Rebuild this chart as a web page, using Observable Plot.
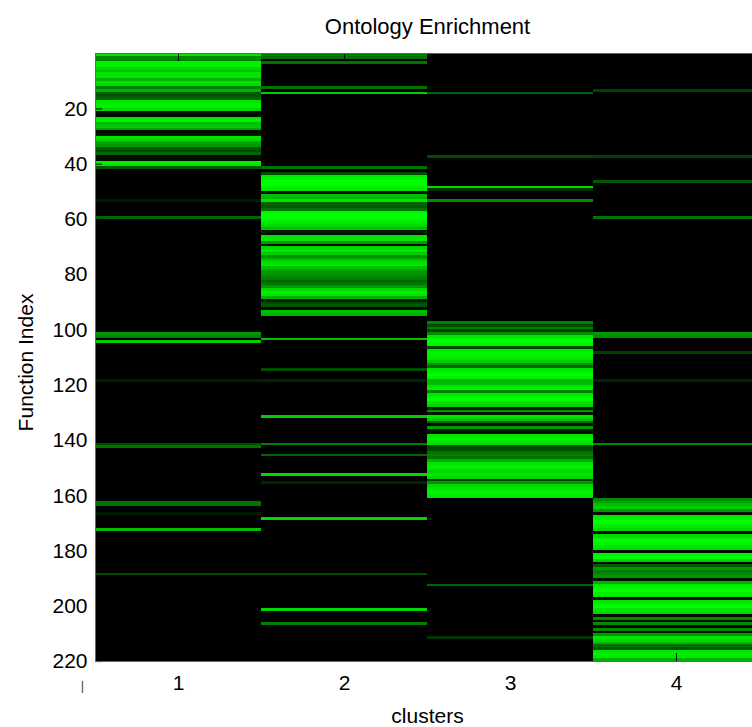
<!DOCTYPE html>
<html>
<head>
<meta charset="utf-8">
<script src="https://cdn.jsdelivr.net/npm/d3@7"></script>
<script src="https://cdn.jsdelivr.net/npm/@observablehq/plot@0.6"></script>
<style>
  html, body { margin: 0; padding: 0; background: #fff; overflow: hidden; width: 752px; height: 727px; }
  #chart { width: 752px; height: 727px; overflow: hidden; }
  #chart svg { max-width: none !important; width: 760px !important; height: 727px !important; }
</style>
</head>
<body>
<div id="chart"></div>
<script>
const title = "Ontology Enrichment";
const xLabel = "clusters";
const yLabel = "Function Index";
const clusters = [1, 2, 3, 4];
const xTicks = [1, 2, 3, 4];
const yTicks = [20, 40, 60, 80, 100, 120, 140, 160, 180, 200, 220];
const nFunctions = 220;

// enrichment intensity (0 = none, 1 = max) per function index, one array per cluster
const cluster1 = [
  0.9,0.55,0.5,0.95,0.95,0.85,0.75,0.9,0.9,0.7,
  0.9,0.85,0.5,0.7,0.35,0.35,0.4,0.9,0.95,0.95,
  0.85,0.05,0.05,0.9,0.95,0.75,0.8,0.65,0.05,0.1,
  0.9,0.85,0.65,0.6,0.35,0.3,0.4,0.05,0.05,0.95,
  0.9,0.35,0,0,0,0,0,0,0,0,
  0,0,0,0.1,0,0,0,0,0,0.4,
  0,0,0,0,0,0,0,0,0,0,
  0,0,0,0,0,0,0,0,0,0,
  0,0,0,0,0,0,0,0,0,0,
  0,0,0,0,0,0,0,0,0,0,
  0,0.6,0.5,0,0.8,0,0,0,0,0,
  0,0,0,0,0,0,0,0,0.12,0,
  0,0,0,0,0,0,0,0,0,0,
  0,0,0,0,0,0,0,0,0,0,
  0,0.3,0.45,0,0,0,0,0,0,0,
  0,0,0,0,0,0,0,0,0,0,
  0,0,0.45,0.45,0,0,0.1,0,0,0,
  0,0,0.75,0,0,0,0,0,0,0,
  0,0,0,0,0,0,0,0,0.3,0,
  0,0,0,0,0,0,0,0,0,0,
  0,0,0,0,0,0,0,0,0,0,
  0,0,0,0,0,0,0,0,0,0
];
const cluster2 = [
  0.5,0.45,0,0.45,0,0,0,0,0,0,
  0,0,0.45,0,0.8,0,0,0,0,0,
  0,0,0,0,0,0,0,0,0,0,
  0,0,0,0,0,0,0,0,0,0,
  0,0.45,0,0.3,0.9,0.95,1,1,0.95,0.9,
  0.05,0.75,0.7,0.9,0.4,0.35,0.45,0.95,1,1,
  0.95,0.9,0.85,0.75,0.1,0.05,0.9,0.9,0.6,0.05,
  0.85,0.9,0.8,0.55,0.7,0.85,0.9,0.75,0.65,0.6,
  0.55,0.5,0.4,0.45,0.6,0.85,0.95,0.9,0.7,0.1,
  0.3,0.35,0.05,0.75,0.7,0,0,0,0,0,
  0,0,0,0.75,0,0,0,0,0,0,
  0,0,0,0,0.3,0,0,0,0.15,0,
  0,0,0,0,0,0,0,0,0,0,
  0,0.8,0,0,0,0,0,0,0,0,
  0,0.5,0,0,0,0.4,0,0,0,0,
  0,0,0.85,0,0,0.15,0,0,0,0,
  0,0,0,0,0,0,0,0,0.85,0,
  0,0,0,0,0,0,0,0,0,0,
  0,0,0,0,0,0,0,0,0.3,0,
  0,0,0,0,0,0,0,0,0,0,
  0,0.85,0,0,0,0,0.5,0,0,0,
  0,0,0,0,0,0,0,0,0,0
];
const cluster3 = [
  0,0,0,0,0,0,0,0,0,0,
  0,0,0,0,0.4,0,0,0,0,0,
  0,0,0,0,0,0,0,0,0,0,
  0,0,0,0,0,0,0,0.3,0,0,
  0,0,0,0,0,0,0,0,0.85,0.2,
  0,0,0,0.55,0,0,0,0,0,0,
  0,0,0,0,0,0,0,0,0,0,
  0,0,0,0,0,0,0,0,0,0,
  0,0,0,0,0,0,0,0,0,0,
  0,0,0,0,0,0,0,0.5,0.3,0.5,
  0.25,0.55,0.9,0.95,1,0.95,0.3,0.9,0.95,0.95,
  0.9,0.8,0.6,0.4,0.9,0.95,1,0.95,0.7,0.75,
  0.9,0.95,0.5,0.9,0.95,1,0.9,0.85,0.1,0.6,
  0.1,0.9,0.8,0.4,0.05,0.6,0.1,0.05,0.9,0.95,
  0.9,0.85,0.3,0.3,0.45,0.5,0.45,0.7,0.9,0.95,
  0.9,0.85,0.9,0.85,0.2,0.6,0.85,0.9,0.95,0.95,
  0.9,0,0,0,0,0,0,0,0,0,
  0,0,0,0,0,0,0,0,0,0,
  0,0,0,0,0,0,0,0,0,0,
  0,0,0.4,0,0,0,0,0,0,0,
  0,0,0,0,0,0,0,0,0,0,
  0,0.2,0,0,0,0,0,0,0,0
];
const cluster4 = [
  0,0,0,0,0,0,0,0,0,0,
  0,0,0,0.25,0,0,0,0,0,0,
  0,0,0,0,0,0,0,0,0,0,
  0,0,0,0,0,0,0,0.25,0,0,
  0,0,0,0,0,0,0.35,0,0,0,
  0,0,0,0,0,0,0,0,0,0.45,
  0,0,0,0,0,0,0,0,0,0,
  0,0,0,0,0,0,0,0,0,0,
  0,0,0,0,0,0,0,0,0,0,
  0,0,0,0,0,0,0,0,0,0,
  0,0.6,0.55,0,0,0,0,0,0.25,0,
  0,0,0,0,0,0,0,0,0.15,0,
  0,0,0,0,0,0,0,0,0,0,
  0,0,0,0,0,0,0,0,0,0,
  0,0.55,0,0,0,0,0,0,0,0,
  0,0,0,0,0,0,0,0,0,0,
  0,0.55,0.65,0.75,0.8,0.6,0.05,0.9,0.95,1,
  0.95,0.9,0.85,0.05,0.85,0.9,1,0.95,0.9,0.85,
  0.05,0.95,1,0.8,0.05,0.35,0.6,0.5,0.55,0.6,
  0.05,0.7,0.9,0.95,1,0.95,0.9,0.05,0.9,0.95,
  1,0.9,0.85,0.05,0.55,0.05,0.55,0.05,0.55,0.05,
  0.6,0.9,0.85,0.7,0.45,0.35,0.9,0.95,0.9,0.7
];

const series = [cluster1, cluster2, cluster3, cluster4];
const table = [];
clusters.forEach((c, ci) => {
  series[ci].forEach((v, i) => table.push({cluster: c, index: i + 1, value: v}));
});

const font = "'Liberation Sans', Arial, Helvetica, sans-serif";

const chart = Plot.plot({
  width: 760,
  height: 727,
  marginLeft: 95,
  marginRight: 1,
  marginTop: 53,
  marginBottom: 66,
  style: {fontFamily: font, fontSize: "21px", background: "#fff", color: "#000", maxWidth: "none", overflow: "visible"},
  x: {domain: [0.5, clusters.length + 0.5]},
  y: {domain: [0.5, nFunctions + 0.5], reverse: true},
  color: {type: "linear", domain: [0, 1], range: ["#000000", "#00ff00"], interpolate: "rgb"},
  marks: [
    Plot.frame({fill: "#000"}),
    Plot.rect(table, {
      x1: d => d.cluster - 0.5,
      x2: d => d.cluster + 0.5,
      y1: d => d.index - 0.5,
      y2: d => d.index + 0.5,
      fill: "value",
      shapeRendering: "crispEdges"
    }),
    Plot.axisY(yTicks, {anchor: "left", tickSize: -7, tickPadding: 15, stroke: "#000", fontSize: 21, dy: 1.5, tickFormat: d => String(d), label: null}),
    Plot.axisX(xTicks, {anchor: "bottom", tickSize: -8, tickPadding: 22, stroke: "#000", fontSize: 21, tickFormat: d => String(d), label: null}),
    Plot.axisX(xTicks, {anchor: "top", tickSize: -7, stroke: "#000", fill: "none", label: null}),
    Plot.frame({stroke: "#666", strokeWidth: 1}),
    Plot.text([title], {frameAnchor: "top", lineAnchor: "middle", textAnchor: "middle", dy: -26.5, fontSize: 22, fill: "#000"}),
    Plot.text([xLabel], {frameAnchor: "bottom", lineAnchor: "middle", textAnchor: "middle", dy: 55, fontSize: 21, fill: "#000"}),
    Plot.text([yLabel], {frameAnchor: "left", lineAnchor: "middle", textAnchor: "middle", rotate: -90, dx: -69, dy: 5, fontSize: 21, fill: "#000"}),
    Plot.text(["|"], {frameAnchor: "bottom-left", lineAnchor: "middle", textAnchor: "middle", dx: -13, dy: 24, fontSize: 13, fill: "#444"})
  ]
});

document.getElementById("chart").appendChild(chart);
</script>
</body>
</html>
